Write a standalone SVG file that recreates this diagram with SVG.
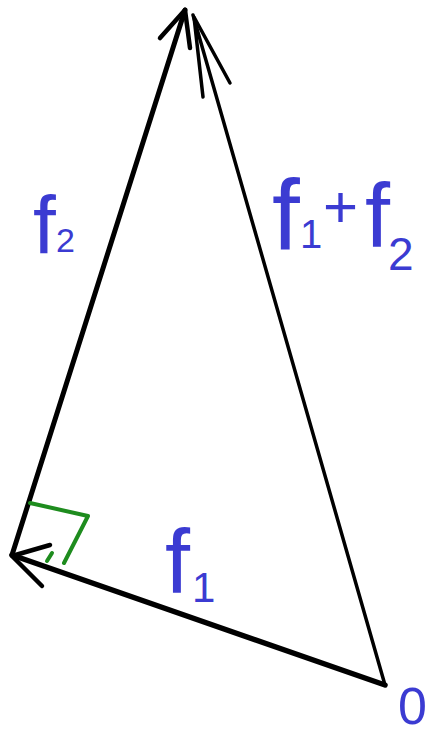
<svg xmlns="http://www.w3.org/2000/svg" width="429" height="734" viewBox="0 0 429 734">
<style>
.ln{fill:none;stroke:#000;stroke-linecap:round;stroke-linejoin:round}
.lb{fill:#3b3bd2;font-family:"Liberation Sans","DejaVu Sans",sans-serif}
</style>
<rect width="429" height="734" fill="#fff"/>
<g id="connectors">
<g id="f1-vector">
<line class="ln" stroke-width="5.5" x1="385" y1="685" x2="12" y2="555"/>
<polyline class="ln" stroke-width="4.5" points="50,545 12,556 42,586"/>
</g>
<g id="f2-vector">
<line class="ln" stroke-width="5" x1="12" y1="555" x2="185" y2="10"/>
<polyline class="ln" stroke-width="4.5" points="160,38 185,10 190,48"/>
</g>
<g id="sum-vector">
<line class="ln" stroke-width="3.5" x1="385" y1="685" x2="193" y2="15"/>
<polyline class="ln" stroke-width="3.5" points="203,97 194,17 230,83"/>
</g>
</g>
<g id="right-angle">
<polyline fill="none" stroke="#1e8c1e" stroke-width="4" stroke-linecap="round" stroke-linejoin="round" points="30,503 88,516 64,563"/>
<line stroke="#1e8c1e" stroke-width="4" stroke-linecap="round" x1="47" y1="561" x2="52" y2="553"/>
</g>
<g id="label-f2">
<text class="lb" x="33" y="253" font-size="82">f</text>
<text class="lb" x="56" y="252" font-size="34">2</text>
</g>
<g id="label-f1">
<text class="lb" x="165" y="593" font-size="90">f</text>
<text class="lb" x="192" y="602" font-size="42">1</text>
</g>
<g id="label-sum">
<text class="lb" x="272" y="250" font-size="100">f</text>
<text class="lb" x="300" y="248" font-size="40">1</text>
<text class="lb" x="323" y="227" font-size="60">+</text>
<text class="lb" x="365" y="247" font-size="90">f</text>
<text class="lb" x="388" y="270" font-size="46">2</text>
</g>
<g id="origin">
<text class="lb" x="398" y="724" font-size="52">0</text>
</g>
</svg>
